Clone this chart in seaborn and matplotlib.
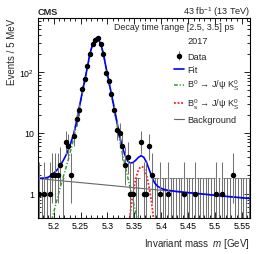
import math
import numpy as np
import pandas as pd
import matplotlib
matplotlib.use("Agg")
import matplotlib.pyplot as plt
import matplotlib.ticker as mticker
from matplotlib.lines import Line2D
import seaborn as sns

# ---------------- data ----------------
bin_lo = 5.17
bin_width = 0.005
counts = [1, 0, 1, 0, 1, 2, 2, 2, 3, 0,
          7, 6, 2, 9, 17, 24, 53, 76, 125, 198,
          292, 340, 360, 287, 199, 97, 71, 43, 24, 11,
          10, 6, 3, 4, 1, 1, 0, 0, 7, 1,
          1, 6, 2, 0, 0, 1, 0, 0, 1, 0,
          0, 0, 0, 0, 1, 0, 0, 0, 1, 0,
          0, 0, 0, 0, 0, 0, 1, 0, 1, 0,
          0, 0, 2, 0, 0, 0, 0, 0, 0]

# total fit, at bin centres plus the range ends and the peak
fit_total = [1.79,
             1.80, 1.80, 1.81, 1.84, 1.92, 2.08, 2.27, 2.53, 2.94, 3.48,
             4.22, 5.3, 7.1, 9.8, 15.4, 26, 43, 71, 117, 200,
             288, 351, 365, 351, 288, 200, 117, 71, 43, 26, 15.5,
             9.0, 6.0, 4.35, 3.45, 3.2, 3.25, 3.55, 3.95, 4.22, 3.98,
             3.3, 2.52, 1.88, 1.52, 1.35, 1.26, 1.2, 1.165, 1.14, 1.125,
             1.11, 1.095, 1.085, 1.072, 1.06, 1.05, 1.04, 1.03, 1.02, 1.01,
             1.0, 0.99, 0.98, 0.97, 0.96, 0.95, 0.94, 0.931, 0.922, 0.913,
             0.904, 0.895, 0.887, 0.879, 0.871, 0.863, 0.855, 0.848, 0.841,
             0.838]

# B0 component (bin centres k=4..37 plus peak)
b0_mass = [5.1925, 5.1975, 5.2025, 5.2075, 5.2125, 5.2175, 5.2225, 5.2275,
           5.2325, 5.2375, 5.2425, 5.2475, 5.2525, 5.2575, 5.2625, 5.2675,
           5.2725, 5.2775, 5.2800, 5.2825, 5.2875, 5.2925, 5.2975, 5.3025,
           5.3075, 5.3125, 5.3175, 5.3225, 5.3275, 5.3325, 5.3375, 5.3425,
           5.3475, 5.3525, 5.3575]
b0_val = [0.27, 0.40, 0.6, 0.88, 1.3, 1.85, 2.6, 3.7,
          5.5, 8.2, 13.8, 24.3, 41.3, 69.3, 115.3, 198.3,
          286.3, 349.4, 363.4, 349.5, 286.5, 198.5, 115.6, 69.6,
          41.6, 24.6, 14.2, 7.7, 4.7, 3.0, 1.9, 1.22,
          0.78, 0.5, 0.32]

# Bs component
bs_mass = [5.3385, 5.3410, 5.3435, 5.3460, 5.3485, 5.3510, 5.3535, 5.3560,
           5.3585, 5.3610, 5.3635, 5.3660, 5.3685, 5.3710, 5.3735, 5.3760,
           5.3785, 5.3810, 5.3835, 5.3860, 5.3885]
bs_val = [0.23, 0.37, 0.57, 0.83, 1.14, 1.50, 1.88, 2.24,
          2.53, 2.73, 2.80, 2.73, 2.53, 2.24, 1.88, 1.50,
          1.14, 0.83, 0.57, 0.37, 0.23]

# background
bkg_mass = [5.17, 5.565]
bkg_val = [1.78, 0.83]

xtick_vals = [5.2, 5.25, 5.3, 5.35, 5.4, 5.45, 5.5, 5.55]
ytick_vals = [1, 10, 100]
ytick_labels = ["1", "10", "$10^{2}$"]

# ---------------- helpers ----------------
def pois_cdf(n, mu):
    if mu <= 0:
        return 1.0
    s = 0.0
    lmu = math.log(mu)
    for i in range(n + 1):
        s += math.exp(-mu + i * lmu - math.lgamma(i + 1))
    return s

ALPHA = 0.158655

def garwood(n):
    if n == 0:
        lo = 0.0
    else:
        a, b = 1e-9, float(n)
        for _ in range(80):
            m = 0.5 * (a + b)
            if 1.0 - pois_cdf(n - 1, m) < ALPHA:
                a = m
            else:
                b = m
        lo = 0.5 * (a + b)
    a, b = float(n), n + 10 * math.sqrt(n + 1) + 10
    for _ in range(80):
        m = 0.5 * (a + b)
        if pois_cdf(n, m) > ALPHA:
            a = m
        else:
            b = m
    hi = 0.5 * (a + b)
    return lo, hi

n = np.array(counts, dtype=float)
centers = bin_lo + bin_width * (np.arange(len(counts)) + 0.5)
err = np.array([garwood(int(c)) for c in counts])
lo, hi = err[:, 0], err[:, 1]

fit_mass = np.concatenate([[5.170], centers[:22], [5.280], centers[22:], [5.565]])

# ---------------- style ----------------
sns.set_style("ticks")
plt.rcParams["font.family"] = ["Liberation Sans", "DejaVu Sans"]
plt.rcParams["mathtext.fontset"] = "custom"
plt.rcParams["mathtext.rm"] = "Liberation Sans"
plt.rcParams["mathtext.it"] = "Liberation Sans:italic"
plt.rcParams["mathtext.bf"] = "Liberation Sans:bold"
plt.rcParams["axes.linewidth"] = 0.8

fig = plt.figure(figsize=(2.66, 2.55), dpi=100)
ax = fig.add_axes([37.5 / 266, 1 - 219 / 255, 212.5 / 266, 200 / 255])
ax.set_yscale("log")

ecol = "0.45"
nz = n > 0
zero = ~nz
# zero bins: upper error only, with bin-wide cap
ax.vlines(centers[zero], 1e-3, hi[zero], color=ecol, lw=0.75, zorder=2)
ax.hlines(hi[zero], centers[zero] - bin_width / 2, centers[zero] + bin_width / 2,
          color=ecol, lw=0.75, zorder=2)

# curves
green = "#2ca02c"
red = "#ff1a1a"
sns.lineplot(x=bkg_mass, y=bkg_val, ax=ax, color="0.4", lw=0.8, zorder=3)
sns.lineplot(x=b0_mass, y=b0_val, ax=ax, color=green, lw=1.1,
             linestyle=(0, (2.5, 1.2, 0.8, 1.2)), zorder=3, estimator=None, sort=False)
sns.lineplot(x=bs_mass, y=bs_val, ax=ax, color=red, lw=1.3,
             linestyle=(0, (1, 1)), zorder=3, estimator=None, sort=False)
sns.lineplot(x=fit_mass, y=fit_total, ax=ax, color="#0000ff", lw=1.2, zorder=4,
             estimator=None, sort=False)

# data points
data_h = ax.errorbar(centers[nz], n[nz], yerr=[n[nz] - lo[nz], hi[nz] - n[nz]],
                     fmt="o", ms=2.9, color="black", mec="black", ecolor=ecol,
                     elinewidth=0.75, capsize=0, zorder=5)

ax.set_xlim(5.17, 5.565)
ax.set_ylim(0.4, 770)

ax.xaxis.set_major_locator(mticker.FixedLocator(xtick_vals))
ax.xaxis.set_major_formatter(mticker.FuncFormatter(lambda v, p: "%g" % v))
ax.xaxis.set_minor_locator(mticker.MultipleLocator(0.01))
ax.yaxis.set_major_locator(mticker.FixedLocator(ytick_vals))
ax.yaxis.set_major_formatter(mticker.FixedFormatter(ytick_labels))
ax.yaxis.set_minor_locator(mticker.LogLocator(base=10, subs=np.arange(2, 10) * 1.0, numticks=20))
ax.yaxis.set_minor_formatter(mticker.NullFormatter())
ax.tick_params(which="both", direction="in", top=True, right=True, labelsize=6.3,
               width=0.6, colors="black")
ax.tick_params(which="major", length=4.5, pad=2.5)
ax.tick_params(which="minor", length=2.3)
for s in ax.spines.values():
    s.set_visible(True)
    s.set_color("black")

ax.set_xlabel("Invariant mass  $m$ [GeV]", fontsize=7.0, loc="right")
ax.xaxis.set_label_coords(1.0, -0.09)
ax.xaxis.label.set_va("top")
ax.set_ylabel("Events / 5 MeV", fontsize=7.0, loc="top")
ax.yaxis.set_label_coords(-0.095, 1.0)

ax.text(0.0, 1.035, "CMS", transform=ax.transAxes, fontsize=6.6, fontweight="bold",
        ha="left", va="center")
ax.text(1.0, 1.035, "43 fb$^{-1}$ (13 TeV)", transform=ax.transAxes, fontsize=6.6,
        ha="right", va="center")
ax.text(0.36, 0.9585, "Decay time range [2.5, 3.5] ps", transform=ax.transAxes,
        fontsize=6.4, ha="left", va="center")
ax.text(0.753, 0.8865, "2017", transform=ax.transAxes, fontsize=6.6,
        ha="center", va="center")

handles = [data_h,
           Line2D([], [], color="#0000ff", lw=1.2),
           Line2D([], [], color=green, lw=1.1, linestyle=(0, (2.5, 1.2, 0.8, 1.2))),
           Line2D([], [], color=red, lw=1.3, linestyle=(0, (1, 1))),
           Line2D([], [], color="0.4", lw=0.8)]
labels = ["Data", "Fit",
          "B$^{0}$ \u2192 J/\u03c8 K$^{0}_{\\mathrm{S}}$",
          "B$^{0}_{\\mathrm{s}}$ \u2192 J/\u03c8 K$^{0}_{\\mathrm{S}}$",
          "Background"]
ax.legend(handles, labels, loc="upper left", bbox_to_anchor=(0.642, 0.83),
          frameon=False, fontsize=6.6, borderpad=0, borderaxespad=0,
          handlelength=1.1, handletextpad=0.37, labelspacing=0.45)

fig.savefig("out.png", dpi=100)
